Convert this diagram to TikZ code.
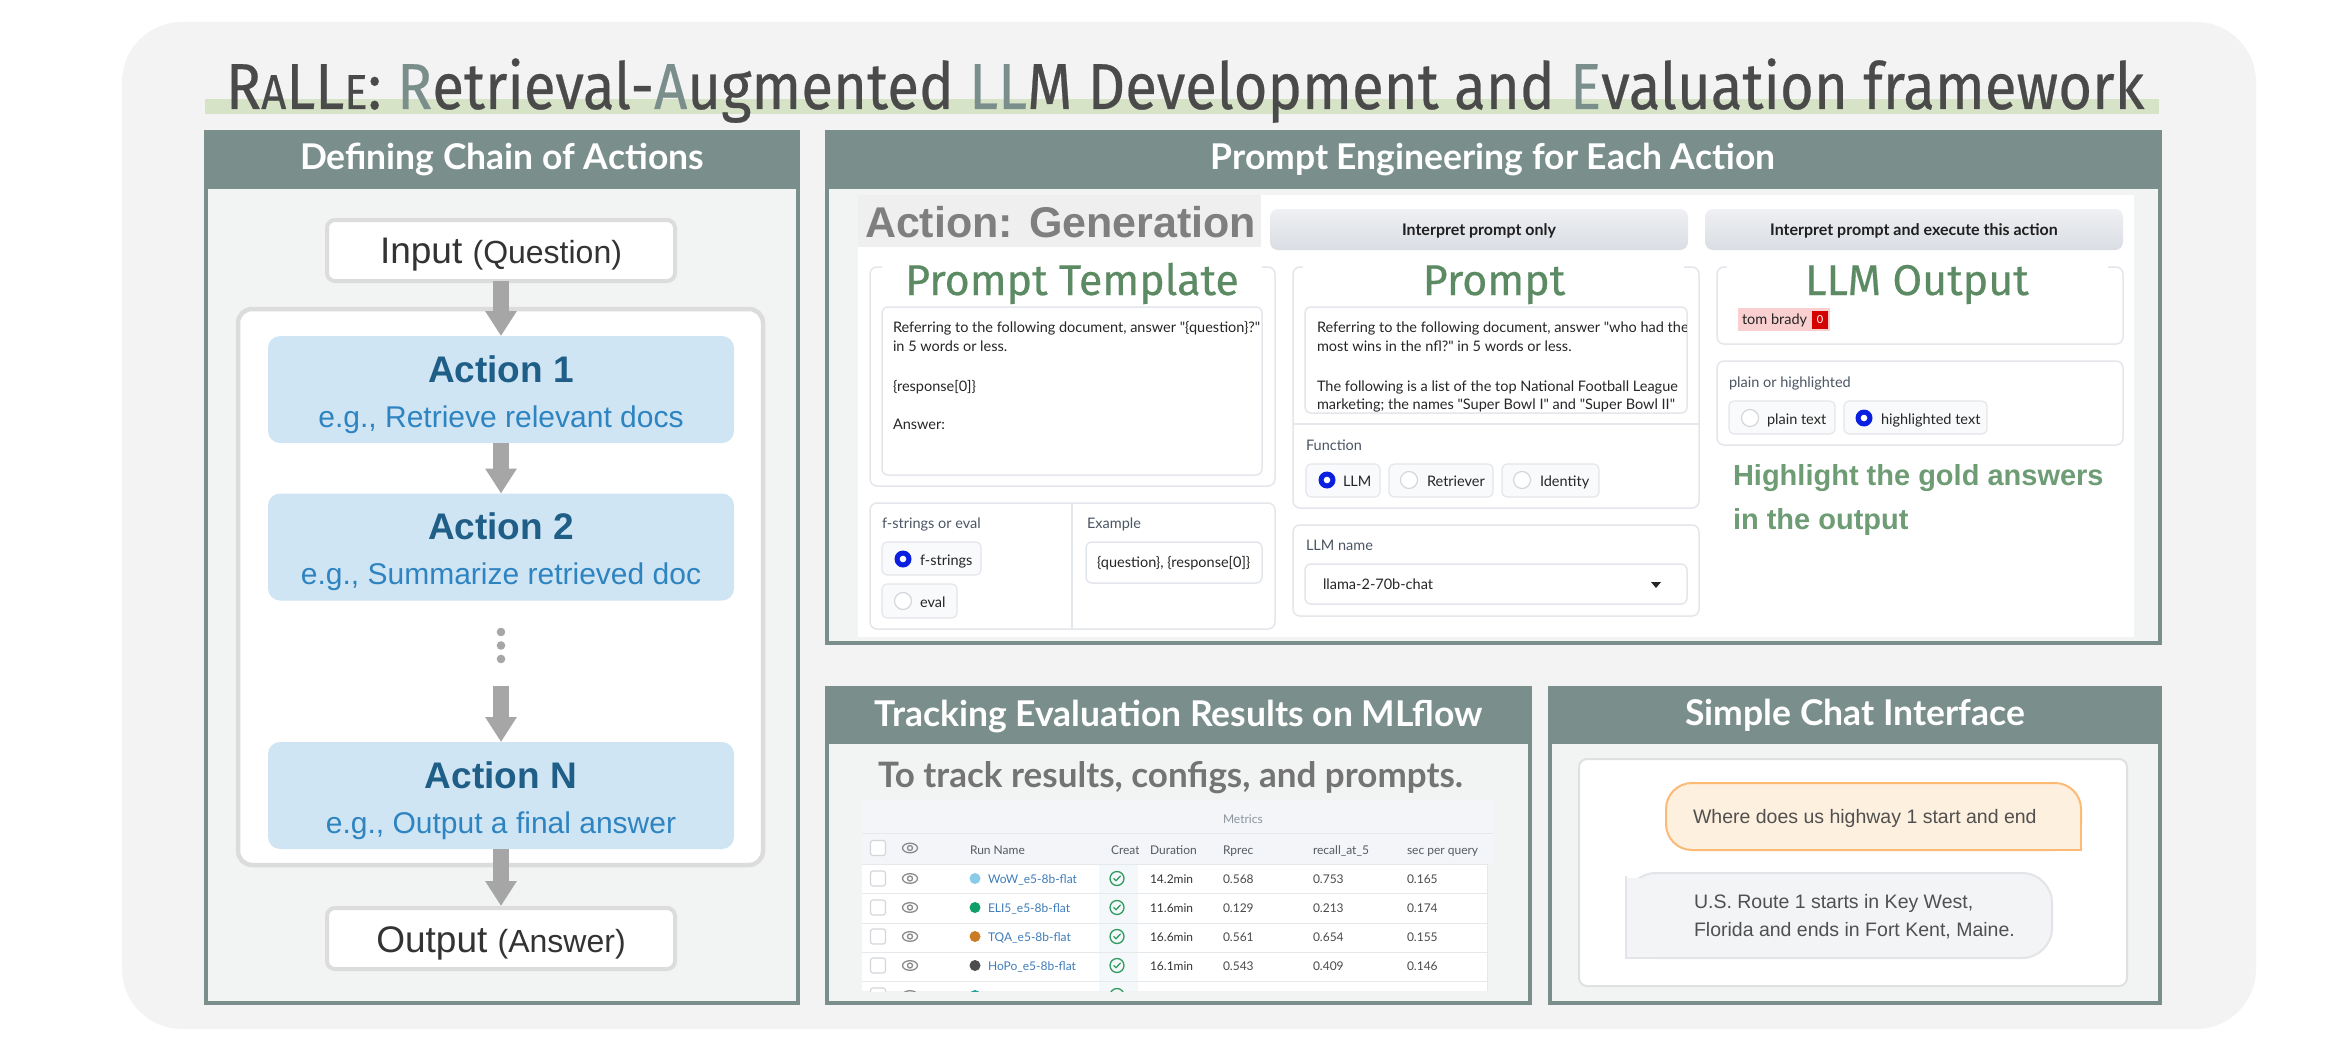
\documentclass[tikz,border=0pt]{standalone}
\usepackage{graphicx}
\usepackage{fontspec}
\setmainfont{Liberation Sans}
\newfontfamily\titlefont{Fira Sans}[BoldFont=Fira Sans, BoldFeatures={FakeBold=0.4}]
\newfontfamily\latofont{Lato}
\usetikzlibrary{arrows.meta,calc}
\definecolor{hdr}{HTML}{7A8F8B}
\definecolor{bgout}{HTML}{F3F3F3}
\definecolor{panelbg}{HTML}{F2F4F3}
\definecolor{titlegray}{HTML}{4A4A4A}
\definecolor{barg}{HTML}{D6E3C6}
\definecolor{boxgray}{HTML}{DCDCDC}
\definecolor{actfill}{HTML}{D0E5F4}
\definecolor{actdark}{HTML}{1F5E87}
\definecolor{actlight}{HTML}{2E84C0}
\definecolor{arrowgray}{HTML}{A6A6A6}
\definecolor{uiborder}{HTML}{E3E6EA}
\definecolor{greentitle}{HTML}{5B8A63}
\definecolor{greenhl}{HTML}{6D9C75}
\definecolor{radioblue}{HTML}{0B1FE0}
\definecolor{radiofill}{HTML}{F9FAFB}
\definecolor{btntop}{HTML}{EEF0F3}
\definecolor{btnbot}{HTML}{DADDE3}
\definecolor{uitextc}{HTML}{262626}
\definecolor{uilabelc}{HTML}{4B5563}
\definecolor{actiongray}{HTML}{7F7F7F}
\definecolor{actionbar}{HTML}{EFEFEF}
\definecolor{subgray}{HTML}{747474}
\definecolor{tblhead}{HTML}{F3F5F8}
\definecolor{tblline}{HTML}{E6E9EC}
\definecolor{tbltext}{HTML}{4A4A4A}
\definecolor{tblhtext}{HTML}{555B63}
\definecolor{tblmeta}{HTML}{8C949D}
\definecolor{linkblue}{HTML}{3F7DBA}
\definecolor{chkgreen}{HTML}{2F9B5E}
\definecolor{eyegray}{HTML}{8A8A8A}
\definecolor{cbgray}{HTML}{D3D7DC}
\definecolor{qfill}{HTML}{FEF0DF}
\definecolor{qborder}{HTML}{FDBA74}
\definecolor{afill}{HTML}{F3F4F6}
\definecolor{aborder}{HTML}{E2E4E8}
\definecolor{chattext}{HTML}{505050}
\definecolor{chatframe}{HTML}{E0E0E0}
\definecolor{pinkhl}{HTML}{F9CFCF}
\definecolor{redbadge}{HTML}{D50000}
\definecolor{createdbg}{HTML}{F5F8FA}
\definecolor{dotA}{HTML}{8BCBEA}
\definecolor{dotB}{HTML}{0E9E6A}
\definecolor{dotC}{HTML}{C97C25}
\definecolor{dotD}{HTML}{4D4D4D}
\definecolor{dotE}{HTML}{2AA198}
\tikzset{
  every node/.style={inner sep=0pt, outer sep=0pt},
  panelframe/.style={draw=hdr, line width=4.5pt, fill=panelbg},
  hdrtext/.style={text=white, anchor=base, font=\latofont\bfseries\fontsize{35.5}{35.5}\selectfont},
  iobox/.style={draw=boxgray, line width=4pt, fill=white, rounded corners=8pt, minimum width=348pt, minimum height=61pt},
  iotext/.style={text=black!80, anchor=base, font=\fontsize{37}{37}\selectfont},
  chainbox/.style={draw=boxgray, line width=4.5pt, fill=white, rounded corners=14pt, minimum width=525pt, minimum height=556pt},
  actbox/.style={fill=actfill, rounded corners=12pt, minimum width=466pt, minimum height=107pt},
  acttitle/.style={text=actdark, anchor=base, font=\bfseries\fontsize{37}{37}\selectfont},
  actsub/.style={text=actlight, anchor=base, font=\fontsize{30}{30}\selectfont},
  fatarrow/.style={draw=arrowgray, line width=16pt, -{Triangle[width=30pt,length=25pt]}},
  uiblock/.style={draw=uiborder, line width=1.5pt, fill=white, rounded corners=7pt},
  uifield/.style={draw=uiborder, line width=1.5pt, fill=white, rounded corners=6pt},
  radiobox/.style={draw=uiborder, line width=1.2pt, fill=radiofill, rounded corners=5pt},
  uitext/.style={font=\latofont\fontsize{14.5}{17}\selectfont, text=uitextc, anchor=base west},
  uilabel/.style={font=\latofont\fontsize{14.5}{17}\selectfont, text=uilabelc, anchor=base west},
  blocktitle/.style={font=\titlefont\bfseries\fontsize{43}{43}\selectfont, text=greentitle, anchor=base},
  btnshape/.style={rounded corners=8pt, top color=btntop, bottom color=btnbot},
  btntext/.style={font=\latofont\bfseries\fontsize{16}{16}\selectfont, text=black!88, anchor=base},
  tbl/.style={font=\latofont\fontsize{12}{12}\selectfont, anchor=base west, text=tbltext},
  tblh/.style={font=\latofont\fontsize{12}{12}\selectfont, anchor=base west, text=tblhtext},
  chattxt/.style={font=\fontsize{19.5}{19.5}\selectfont, text=chattext, anchor=base west},
  eyeicon/.pic={\draw[eyegray, line width=1.3pt] (0,0) ellipse [x radius=7.5, y radius=4.8];
                \draw[eyegray, line width=1.3pt] (0,0) circle [radius=2.5];},
  chkicon/.pic={\draw[chkgreen, line width=1.3pt] (0,0) circle [radius=7];
                \draw[chkgreen, line width=1.3pt, line cap=round, line join=round] (-3.3,0) -- (-1,2.3) -- (3.3,-2.4);},
  cbox/.pic={\draw[cbgray, line width=1.2pt, fill=white, rounded corners=2.5pt] (-7.5,-7.5) rectangle (7.5,7.5);},
  radon/.pic={\fill[radioblue] (0,0) circle [radius=8.5]; \fill[white] (0,0) circle [radius=3.3];},
  radoff/.pic={\draw[cbgray, line width=1.2pt, fill=white] (0,0) circle [radius=8.5];}
}
\begin{document}
\begin{tikzpicture}[x=1pt,y=-1pt]
\useasboundingbox (0,0) rectangle (2332,1062);
\fill[white] (0,0) rectangle (2332,1062);
\fill[bgout, rounded corners=60pt] (122,22) rectangle (2256,1029);
% title
\fill[barg] (205,99) rectangle (2159,114);
\node[anchor=base west, text=titlegray, font=\titlefont\bfseries\fontsize{65}{65}\selectfont] (title) at (226,109)
  {\scalebox{0.895}[1]{R{\fontsize{49}{49}\selectfont A}LL{\fontsize{49}{49}\selectfont E}: \textcolor{hdr}{R}etrieval-\textcolor{hdr}{A}ugmented \textcolor{hdr}{LL}M Development and \textcolor{hdr}{E}valuation framework}};

% ---------- left panel
\draw[panelframe] (206,132) rectangle (798,1003);
\fill[hdr] (203.75,129.75) rectangle (800.25,189);
\node[hdrtext] (hleft) at (502,170) {Defining Chain of Actions};
\node[chainbox] (chain) at (500.5,587) {};
\node[iobox] (inp) at (501,250.5) {};
\node[iotext] (inptext) at (501,263) {Input {\fontsize{32}{32}\selectfont(Question)}};
\node[actbox] (a1) at (501,389.5) {};
\node[acttitle] (a1t) at (501,382) {Action 1};
\node[actsub] (a1s) at (501,427) {e.g., Retrieve relevant docs};
\node[actbox] (a2) at (501,547) {};
\node[acttitle] (a2t) at (501,539) {Action 2};
\node[actsub] (a2s) at (501,584) {e.g., Summarize retrieved doc};
\fill[arrowgray] (501,632) circle [radius=4.3] (501,645.5) circle [radius=4.3] (501,659) circle [radius=4.3];
\coordinate (dotsend) at (501,686);
\node[actbox] (aN) at (501,795.5) {};
\node[acttitle] (aNt) at (501,788) {Action N};
\node[actsub] (aNs) at (501,833) {e.g., Output a final answer};
\node[iobox] (outp) at (501,938.5) {};
\node[iotext] (outptext) at (501,952) {Output {\fontsize{32}{32}\selectfont(Answer)}};
\draw[fatarrow] (inp.south) -- (a1.north);
\draw[fatarrow] (a1.south) -- (a2.north);
\draw[fatarrow] (dotsend) -- (aN.north);
\draw[fatarrow] (aN.south) -- ($(outp.north)+(0,-2)$);

% ---------- prompt engineering panel
\draw[panelframe] (827,132) rectangle (2160,643);
\fill[hdr] (824.75,129.75) rectangle (2162.25,189);
\node[hdrtext] (hpe) at (1493,169) {Prompt Engineering for Each Action};
\fill[white] (858,195) rectangle (2134,637);
\fill[actionbar] (858,195) rectangle (1261,247);
\node[anchor=base west, text=actiongray, font=\bfseries\fontsize{43}{43}\selectfont] (actgen) at (865,237) {Action: Generation};
\shade[btnshape] (1270,209) rectangle (1688,250);
\node[btntext] (btn1) at (1479,235) {Interpret prompt only};
\shade[btnshape] (1705,209) rectangle (2123,250);
\node[btntext] (btn2) at (1914,235) {Interpret prompt and execute this action};

% Prompt template block
\draw[uiblock] (870,267) rectangle (1275,486);
\fill[white] (882,258) rectangle (1262,302);
\node[blocktitle] (ptt) at (1072,295) {Prompt Template};
\draw[uifield] (882,307) rectangle (1262,475);
\node[uitext] (pt1) at (893,332) {Referring to the following document, answer "\{question\}?"};
\node[uitext] (pt2) at (893,351) {in 5 words or less.};
\node[uitext] (pt3) at (893,391) {\{response[0]\}};
\node[uitext] (pt4) at (893,429) {Answer:};
% f-strings block
\draw[uiblock] (870,503) rectangle (1275,629);
\draw[uiborder, line width=1.5pt] (1072,503) -- (1072,629);
\node[uilabel] (fsl) at (882,528) {f-strings or eval};
\draw[radiobox] (882,542) rectangle (981,575);
\pic at (903,559) {radon};
\node[uitext] (fs1) at (920,565) {f-strings};
\draw[radiobox] (882,584) rectangle (957,618);
\pic at (903,601) {radoff};
\node[uitext] (fs2) at (920,607) {eval};
\node[uilabel] (exl) at (1087,528) {Example};
\draw[uifield] (1086,542) rectangle (1262,583);
\node[uitext] (ext) at (1097,567) {\{question\}, \{response[0]\}};

% Prompt block
\draw[uiblock] (1293,267) rectangle (1699,508);
\fill[white] (1303,258) rectangle (1684,302);
\node[blocktitle] (prt) at (1494,295) {Prompt};
\draw[uifield] (1305,307) rectangle (1687,413);
\begin{scope}
\clip (1306,308) rectangle (1686,412);
\node[uitext] (pp1) at (1317,332) {Referring to the following document, answer "who had the};
\node[uitext] (pp2) at (1317,351) {most wins in the nfl?" in 5 words or less.};
\node[uitext] (pp3) at (1317,391) {The following is a list of the top National Football League};
\node[uitext] (pp4) at (1317,409) {marketing; the names "Super Bowl I" and "Super Bowl II"};
\end{scope}
\draw[uiborder, line width=1.5pt] (1293,424) -- (1699,424);
\node[uilabel] (fnl) at (1306,450) {Function};
\draw[radiobox] (1306,464) rectangle (1380,497);
\pic at (1327,480) {radon};
\node[uitext] (fn1) at (1343,486) {LLM};
\draw[radiobox] (1389,464) rectangle (1493,497);
\pic at (1409,480) {radoff};
\node[uitext] (fn2) at (1427,486) {Retriever};
\draw[radiobox] (1502,464) rectangle (1599,497);
\pic at (1522,480) {radoff};
\node[uitext] (fn3) at (1540,486) {Identity};
\draw[uiblock] (1293,525) rectangle (1699,616);
\node[uilabel] (lnl) at (1306,550) {LLM name};
\draw[uifield] (1305,564) rectangle (1687,604);
\node[uitext] (lnv) at (1323,589) {llama-2-70b-chat};
\fill[black!85] (1651,582) -- (1661,582) -- (1656,588) -- cycle;

% LLM output block
\draw[uiblock] (1717,267) rectangle (2123,344);
\fill[white] (1727,258) rectangle (2108,302);
\node[blocktitle] (lot) at (1917,295) {LLM Output};
\fill[pinkhl] (1738,308) rectangle (1830,331);
\node[uitext] (tb) at (1742,324) {tom brady};
\fill[redbadge] (1812,311) rectangle (1828,329);
\node[font=\latofont\fontsize{11}{11}\selectfont, text=white] (tb0) at (1820,320) {0};
\draw[uiblock] (1717,361) rectangle (2123,445);
\node[uilabel] (phl) at (1729,387) {plain or highlighted};
\draw[radiobox] (1729,401) rectangle (1835,434);
\pic at (1750,418) {radoff};
\node[uitext] (ph1) at (1767,424) {plain text};
\draw[radiobox] (1844,401) rectangle (1987,434);
\pic at (1864,418) {radon};
\node[uitext] (ph2) at (1881,424) {highlighted text};
\node[anchor=base west, text=greenhl, font=\bfseries\fontsize{29}{29}\selectfont] (hl1) at (1733,485) {Highlight the gold answers};
\node[anchor=base west, text=greenhl, font=\bfseries\fontsize{29}{29}\selectfont] (hl2) at (1733,529) {in the output};

% ---------- tracking panel
\draw[panelframe] (827,688) rectangle (1530,1003);
\fill[hdr] (824.75,685.75) rectangle (1532.25,744);
\node[hdrtext] (htr) at (1178.5,726) {Tracking Evaluation Results on MLflow};
\node[anchor=base west, text=subgray, font=\latofont\bfseries\fontsize{35}{35}\selectfont] (trsub) at (878,787) {To track results, configs, and prompts.};
\begin{scope}
\clip (862,800) rectangle (1493,991);
\fill[white] (862,800) rectangle (1487,991);
\fill[tblhead] (862,800) rectangle (1493,864);
\fill[createdbg] (1099,864) rectangle (1138,991);
\draw[tblline, line width=1pt] (862,833) -- (1493,833);
\draw[tblline, line width=1pt] (1487,864) -- (1487,991);
\foreach \yy in {864,893,923,952,981} {\draw[tblline, line width=1pt] (862,\yy) -- (1487,\yy);}
\node[font=\latofont\fontsize{12}{12}\selectfont, text=tblmeta, anchor=base west] (tmet) at (1223,823) {Metrics};
\pic at (878,848) {cbox};
\pic at (910,848) {eyeicon};
\node[tblh] (th1) at (970,854) {Run Name};
\node[tblh] (th3) at (1150,854) {Duration};
\node[tblh] (th4) at (1223,854) {Rprec};
\node[tblh] (th5) at (1313,854) {recall\_at\_5};
\node[tblh] (th6) at (1407,854) {sec per query};
\foreach \i/\yc/\nm/\col/\dur/\rp/\rc/\sq in {
   1/878.5/WoW\_e5-8b-flat/dotA/14.2min/0.568/0.753/0.165,
   2/907.5/ELI5\_e5-8b-flat/dotB/11.6min/0.129/0.213/0.174,
   3/936.5/TQA\_e5-8b-flat/dotC/16.6min/0.561/0.654/0.155,
   4/965.5/HoPo\_e5-8b-flat/dotD/16.1min/0.543/0.409/0.146} {
  \pic at (878,\yc) {cbox};
  \pic at (910,\yc) {eyeicon};
  \fill[\col] (975,\yc) circle [radius=5.5];
  \node[tbl, text=linkblue] (rn\i) at (988,\yc+4.5) {\nm};
  \pic at (1117,\yc) {chkicon};
  \node[tbl, text=black!80] (rd\i) at (1150,\yc+4.5) {\dur};
  \node[tbl] (rp\i) at (1223,\yc+4.5) {\rp};
  \node[tbl] (rc\i) at (1313,\yc+4.5) {\rc};
  \node[tbl] (rs\i) at (1407,\yc+4.5) {\sq};
}
\pic at (878,995.5) {cbox};
\pic at (910,995.5) {eyeicon};
\fill[dotE] (975,995.5) circle [radius=5.5];
\pic at (1117,995.5) {chkicon};
\end{scope}
\begin{scope}
\clip (1099,833) rectangle (1138,864);
\node[tblh] (th2) at (1111,854) {Create};
\end{scope}

% ---------- chat panel
\draw[panelframe] (1550,688) rectangle (2160,1003);
\fill[hdr] (1547.75,685.75) rectangle (2162.25,744);
\node[hdrtext] (hch) at (1855,725) {Simple Chat Interface};
\draw[chatframe, line width=2pt, fill=white, rounded corners=8pt] (1579,759) rectangle (2127,986);
\node[draw=qborder, fill=qfill, line width=2pt, rounded corners=26pt, minimum width=415pt, minimum height=67pt] (qb) at (1873.5,816.5) {};
\fill[qfill] (2048,816) rectangle (2080,849);
\draw[qborder, line width=2pt] (2046,850) -- (2081,850) -- (2081,814);
\node[chattxt] (qtext) at (1693,823) {Where does us highway 1 start and end};
\node[draw=aborder, fill=afill, line width=2pt, rounded corners=30pt, minimum width=426pt, minimum height=85pt] (ab) at (1839,915.5) {};
\fill[afill] (1627,878) rectangle (1662,957);
\draw[aborder, line width=2pt] (1626,876) -- (1626,958) -- (1664,958);
\node[chattxt] (at1) at (1694,908) {U.S. Route 1 starts in Key West,};
\node[chattxt] (at2) at (1694,936) {Florida and ends in Fort Kent, Maine.};
\end{tikzpicture}
\end{document}
